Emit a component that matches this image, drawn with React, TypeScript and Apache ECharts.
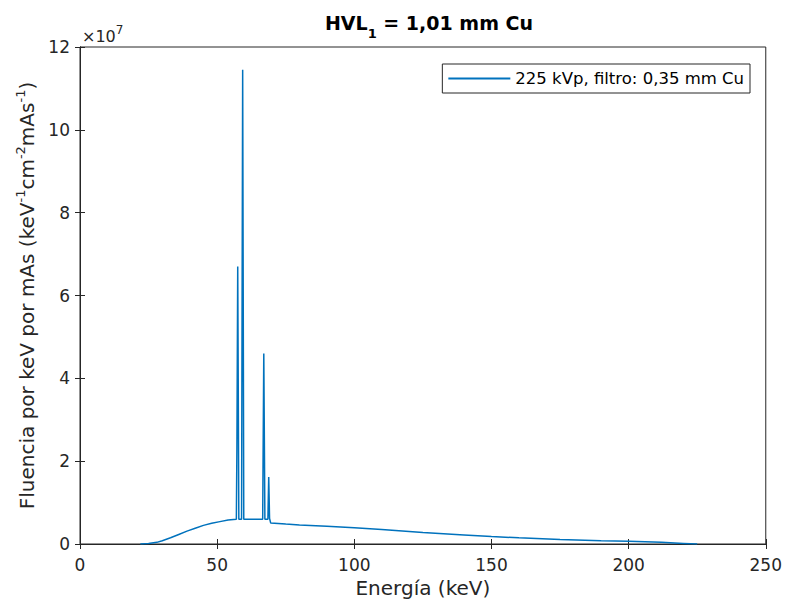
import React, { useEffect, useRef } from "react";
import * as echarts from "echarts";

const energy = [22, 25, 28, 30, 33, 36, 39, 42, 45, 48, 51, 54, 57, 57.2, 57.5, 57.9, 58.9, 59.3, 59.7, 66.6, 67.0, 67.4, 68.5, 68.8, 69.1, 69.5, 75, 80, 90, 100, 110, 125, 140, 150, 160, 175, 190, 200, 212, 220, 225];
const fluence = [0, 0.01, 0.04, 0.08, 0.15, 0.23, 0.31, 0.38, 0.45, 0.5, 0.54, 0.58, 0.6, 2.3, 6.7, 0.6, 0.6, 11.45, 0.6, 0.6, 4.6, 0.6, 0.6, 1.62, 0.62, 0.51, 0.48, 0.46, 0.43, 0.39, 0.35, 0.28, 0.22, 0.18, 0.15, 0.11, 0.08, 0.065, 0.04, 0.015, 0];
const xTicks = { min: 0, max: 250, interval: 50 };
const yTicks = { min: 0, max: 12, interval: 2 };
const seriesName = "225 kVp, filtro: 0,35 mm Cu";
const titleParts = ["HVL", "1", " = 1,01 mm Cu"];

const FONT = "DejaVu Sans";
const AX = "#262626";

export default function App() {
  const ref = useRef<HTMLDivElement>(null);
  useEffect(() => {
    if (!ref.current) return;
    const chart = echarts.init(ref.current, null, { renderer: "svg" });
    const data = energy.map((e, i) => [e, fluence[i]]);
    const commonAxis = {
      axisLine: { show: true, lineStyle: { color: AX, width: 1 } },
      axisTick: { show: true, inside: true, length: 5, lineStyle: { color: AX } },
      splitLine: { show: false },
    };
    chart.setOption({
      animation: false,
      backgroundColor: "#ffffff",
      title: {
        text: `{b|${titleParts[0]}}{s|${titleParts[1]}}{b|${titleParts[2]}}`,
        left: 424,
        textAlign: "center",
        top: 8,
        textStyle: {
          rich: {
            b: { fontFamily: FONT, fontSize: 19, fontWeight: "bold", color: "#000", verticalAlign: "top", lineHeight: 22 },
            s: { fontFamily: FONT, fontSize: 13, fontWeight: "bold", color: "#000", verticalAlign: "top", padding: [14, 0, 0, 0] },
          },
        },
      },
      legend: {
        right: 35,
        top: 64,
        orient: "horizontal",
        padding: [6, 6, 6, 6],
        borderColor: AX,
        borderWidth: 1,
        backgroundColor: "#fff",
        icon: "rect",
        itemWidth: 62,
        itemHeight: 2,
        textStyle: { fontFamily: FONT, fontSize: 16.5, color: "#000" },
        data: [{ name: seriesName }],
      },
      grid: { left: 80, right: 17, top: 47, bottom: 61, show: true, borderColor: AX, borderWidth: 1, backgroundColor: "#fff" },
      xAxis: [
        {
          type: "value",
          ...xTicks,
          ...commonAxis,
          name: "Energía (keV)",
          nameLocation: "middle",
          nameGap: 34,
          nameTextStyle: { fontFamily: FONT, fontSize: 20, color: AX },
          axisLabel: { fontFamily: FONT, fontSize: 17, color: AX, margin: 12 },
        },
        {
          type: "value",
          position: "top",
          ...xTicks,
          ...commonAxis,
          axisLabel: { show: false },
        },
      ],
      yAxis: [
        {
          type: "value",
          ...yTicks,
          ...commonAxis,
          name: "{t|Fluencia por keV por mAs (keV}{p|-1}{t|cm}{p|-2}{t|mAs}{p|-1}{t|)}",
          nameLocation: "middle",
          nameRotate: 90,
          nameGap: 36,
          nameTextStyle: {
            rich: {
              t: { fontFamily: FONT, fontSize: 20, color: AX, verticalAlign: "bottom", lineHeight: 22 },
              p: { fontFamily: FONT, fontSize: 13, color: AX, verticalAlign: "bottom", padding: [0, 0, 10, 0] },
            },
          },
          axisLabel: { fontFamily: FONT, fontSize: 17, color: AX, margin: 10 },
        },
        {
          type: "value",
          position: "right",
          ...yTicks,
          ...commonAxis,
          axisLabel: { show: false },
        },
      ],
      graphic: [
        {
          type: "text",
          left: 82,
          top: 24,
          style: {
            text: "{a|×10}{e|7}",
            rich: {
              a: { fontFamily: FONT, fontSize: 16, fill: AX, verticalAlign: "bottom" },
              e: { fontFamily: FONT, fontSize: 12, fill: AX, verticalAlign: "bottom", padding: [0, 0, 8, 0] },
            },
          },
        },
      ],
      series: [
        {
          name: seriesName,
          type: "line",
          data,
          symbol: "none",
          lineStyle: { color: "#0072BD", width: 1.5 },
          itemStyle: { color: "#0072BD" },
        },
      ],
    });
    return () => chart.dispose();
  }, []);
  return <div ref={ref} style={{ position: "fixed", left: 0, top: 0, width: 785, height: 605 }} />;
}
